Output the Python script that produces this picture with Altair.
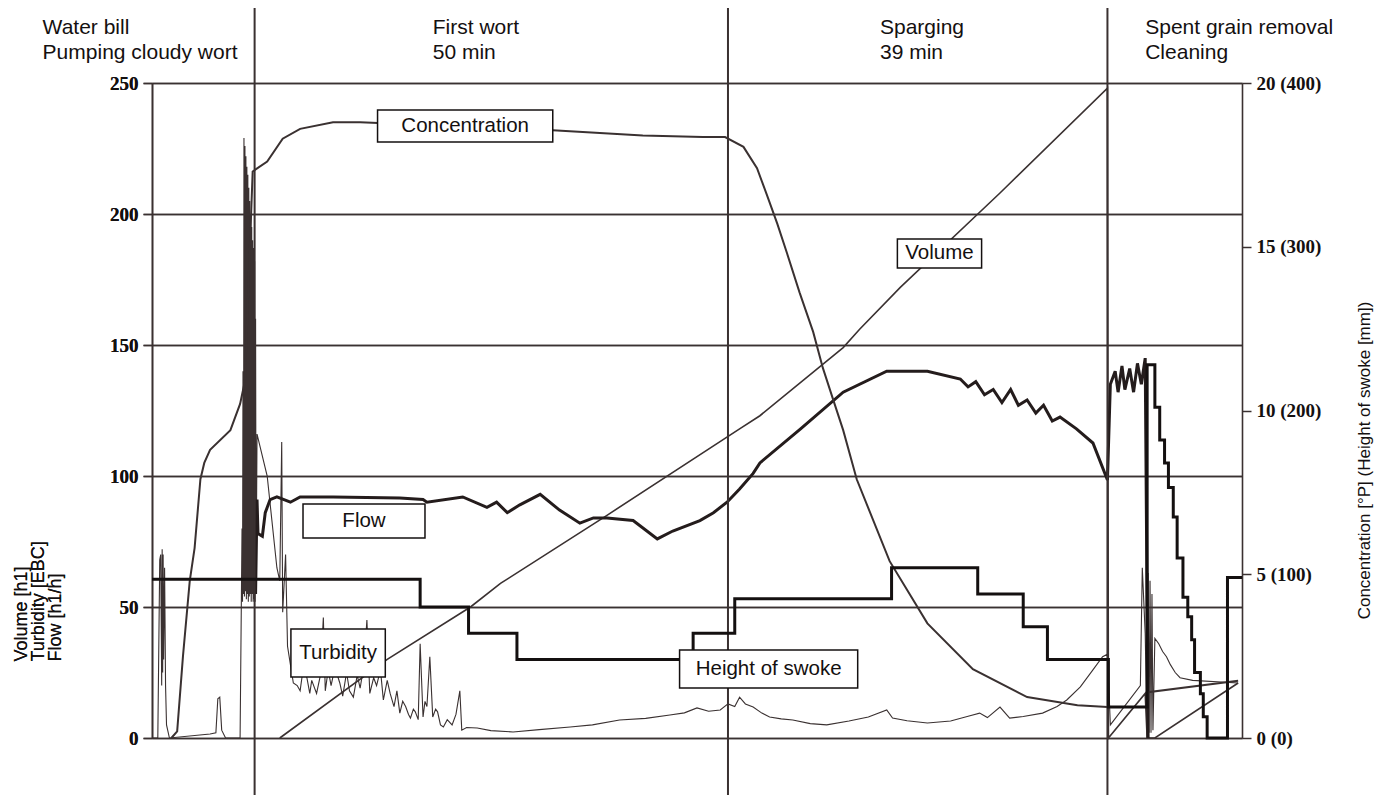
import altair as alt
import pandas as pd

INK = "#3a3131"
DARK = "#141010"

# ---------------- data (time in minutes) ----------------
# Volume [hl] (left axis)
vol_t = [13.2, 24.3, 32.9, 36.0, 47.0, 60.7, 62.8, 71.4, 73.1, 77.3, 87.6, 98.7, 98.8, 102.6, 102.8, 103.6, 112.2]
vol_v = [0, 30, 50, 59, 85, 118, 123, 149, 156, 172, 208, 248, 0, 17, 0, 0, 21]

# Turbidity [EBC] (left axis)
turb_t = [0, 0.6, 0.8, 0.9, 1.0, 1.05, 1.1, 1.15, 1.2, 1.3, 1.4, 1.5, 1.8,
          6.0, 6.6, 6.8, 7.0, 7.2, 7.6, 9.1,
          9.30, 9.35, 9.40, 9.45, 9.50, 9.55, 9.60, 9.65, 9.70, 9.75, 9.80, 9.85, 9.90, 9.95,
          10.00, 10.05, 10.10, 10.15, 10.20, 10.25, 10.30, 10.35, 10.40, 10.45, 10.50, 10.55,
          10.60, 10.65, 10.70, 10.75, 10.85,
          11.9, 12.9, 13.2, 13.4, 13.5, 13.8, 14.0, 14.3, 14.6, 15.0, 15.3, 15.6, 16.0, 16.3, 16.5, 17.0,
          17.4, 17.7, 17.9, 18.2, 18.5, 18.9, 19.4, 19.7, 20.1, 20.4, 20.8, 21.2, 21.5, 21.9, 22.2, 22.5,
          22.9, 23.2, 23.6, 23.9, 24.3, 24.6, 25.0, 25.3, 25.6, 25.9, 26.2, 26.5, 26.7, 27.0, 27.2, 27.5,
          27.7, 28.0, 28.2, 28.4, 28.7, 29.0, 29.3, 29.5, 29.8, 30.1, 30.5, 31.0, 31.4, 31.8, 32.0, 32.5,
          33.6, 35.0, 37.3, 40.0, 43.2, 45.5, 48.3, 51.0, 53.5, 55.0, 56.3, 57.5, 58.7, 59.5, 60.2, 60.7,
          61.3, 62.1, 63.0, 63.8, 65.0, 66.2, 68.0, 69.7, 72.0, 74.0, 75.9, 76.5, 78.0, 80.1, 82.5, 84.5,
          85.5, 86.3, 87.6, 88.6, 90.0, 92.0, 93.5, 94.5, 95.9, 97.2, 98.2, 98.7,
          99.0, 102.1, 102.3, 102.6, 102.8, 102.9, 103.0, 103.1, 103.2, 103.3, 103.4, 103.6, 104.0,
          104.4, 104.8, 105.2, 105.7, 106.2, 107.5, 112.2]
turb_v = [0, 0, 68, 70, 20, 72, 25, 70, 30, 65, 20, 5, 0,
          1.5, 2, 15, 15.6, 3, 0, 0,
          80, 52, 140, 55, 229, 54, 226, 56, 222, 53, 218, 55, 215, 52,
          210, 54, 205, 55, 200, 52, 195, 55, 190, 52, 187, 53,
          182, 52, 160, 60, 116,
          100, 65, 60, 113, 48, 70, 35, 28, 21, 20, 18, 26, 23, 17, 22, 17,
          24, 46, 18, 26, 20, 27, 21, 16, 25, 18, 15.6, 24, 19, 28, 45, 17,
          23, 20, 26, 14.5, 22, 17, 12, 18, 9.5, 14, 12, 9, 7.6, 11, 10, 7,
          36, 8, 14, 12, 31, 8, 11, 10, 5, 4.2, 7, 5, 9, 18, 3, 4,
          3.8, 2.8, 2.3, 3.2, 4.2, 5.0, 6.9, 7.5, 8.8, 9.6, 11.5, 10.2, 10.7, 13, 12, 15.6,
          13, 11.8, 9.5, 8, 7.3, 6.9, 5.5, 5, 6.5, 8, 10.7, 7.6, 6.6, 5.7, 6.5, 8.5,
          9.5, 7.8, 11.8, 7.6, 8.2, 9.5, 12, 14.5, 19.5, 26, 31, 32,
          5, 20, 65, 40, 0, 63, 2, 60, 2, 55, 3, 38, 36,
          33, 31, 28, 25, 23, 22, 21]

# Flow [hl/h] (left axis)
flow_t = [10.7, 10.85, 10.95, 11.4, 11.7, 12.2, 12.9, 14.3, 15.3, 18.7, 25.6, 28.0, 28.4, 32.1, 34.6,
          35.6, 36.7, 38.0, 40.1, 42.1, 44.2, 45.6, 47.0, 49.7, 52.2, 53.8, 56.6, 58.0, 59.4, 60.7,
          62.1, 62.8, 67.0, 71.4, 75.9, 80.1, 83.5, 84.3, 85.1, 86.0, 86.9, 87.8, 88.7, 89.5, 90.4,
          91.3, 92.1, 93.0, 93.8, 95.5, 97.2, 98.7,
          99.0, 99.5, 99.8, 100.2, 100.5, 101.0, 101.4, 101.8, 102.2, 102.6, 102.9]
flow_v = [55, 91, 78, 77, 86, 91, 92, 90, 92, 92, 91.6, 91, 90, 92, 88,
          90, 86, 89, 93, 87, 82, 84, 84, 83, 76, 79, 83, 86, 90, 95,
          101, 105, 118, 132, 140, 140, 137, 134, 136, 131, 133, 128, 133, 127, 129,
          124, 127, 121, 122.5, 118, 112.6, 98.5,
          135, 140, 132, 142, 133, 141, 132, 143, 135, 145, 0]

# Concentration [°P] (right axis)
conc_t = [2.0, 2.6, 3.2, 3.9, 4.4, 5.0, 5.4, 6.0, 8.1, 9.1, 9.6, 10.4, 11.9, 13.5, 15.3, 18.7, 21.5,
          41.4, 50.7, 56.9, 59.2, 61.1, 62.5, 63.5, 64.6, 65.6, 66.9, 68.3, 69.3, 70.4, 71.4, 72.8,
          76.2, 80.1, 84.8, 90.4, 95.6, 98.7, 102.8, 102.9, 112.2]
conc_v = [0, 0.2, 2.5, 4.8, 5.8, 7.9, 8.4, 8.8, 9.4, 10.2, 10.9, 17.3, 17.6, 18.3, 18.6, 18.8, 18.8,
          18.56, 18.4, 18.35, 18.35, 18.05, 17.4, 16.6, 15.7, 14.8, 13.6, 12.4, 11.3, 10.3, 9.4, 7.9,
          5.4, 3.5, 2.1, 1.25, 1.0, 0.95, 0.95, 1.4, 1.75]

# Height of swoke [mm] (right axis, values in brackets)
swoke_t = [0, 27.7, 32.7, 37.7, 55.9, 60.2, 76.4, 85.3, 90.0, 92.5, 98.8, 102.8, 103.6, 104.1, 104.6,
           105.0, 105.5, 105.9, 106.5, 107.0, 107.4, 107.7, 108.3, 108.6, 109.0, 111.1, 112.6]
swoke_v = [97, 80, 64, 48, 64, 85, 104, 88, 68, 48, 19, 228, 202, 182, 168,
           153, 135, 110, 86, 74, 60, 40, 27, 13, 0, 98, 98]

# Phase boundaries [min] and header texts
phase_t = [10.6, 59.5, 98.7]
head_text = ["Water bill", "Pumping cloudy wort", "First wort", "50 min", "Sparging", "39 min",
             "Spent grain removal", "Cleaning"]
head_t = [-11.3, -11.3, 29.0, 29.0, 75.2, 75.2, 102.6, 102.6]
head_y = [271.0, 261.6, 271.0, 261.6, 271.0, 261.6, 271.0, 261.6]

# Curve label boxes (min, left-axis units)
box_text = ["Concentration", "Volume", "Flow", "Turbidity", "Height of swoke"]
box_t1 = [23.3, 77.0, 15.6, 14.35, 54.5]
box_t2 = [41.4, 85.7, 28.2, 24.1, 72.9]
box_y1 = [227.5, 179.4, 76.3, 23.3, 19.1]
box_y2 = [239.7, 190.5, 89.3, 41.6, 33.6]

# ---------------- tables ----------------
def series(name, ts, vs):
    return pd.DataFrame({"t": ts, "v": vs, "series": name, "i": range(len(ts))})

vol_df = series("Volume", vol_t, vol_v)
turb_df = series("Turbidity", turb_t, turb_v)
flow_df = series("Flow", flow_t, flow_v)
conc_df = series("Concentration", conc_t, conc_v)
swoke_df = series("Height of swoke", swoke_t, swoke_v)
phase_df = pd.DataFrame({"t": phase_t})
head_df = pd.DataFrame({"text": head_text, "t": head_t, "y": head_y})
box_df = pd.DataFrame({"text": box_text, "t1": box_t1, "t2": box_t2, "y1": box_y1, "y2": box_y2})
box_df["tm"] = (box_df.t1 + box_df.t2) / 2
box_df["ym"] = (box_df.y1 + box_df.y2) / 2

# ---------------- scales & axes ----------------
xscale = alt.Scale(domain=[0, 112.6], nice=False, zero=False)
lscale = alt.Scale(domain=[0, 250], nice=False)
rscale = alt.Scale(domain=[0, 20], nice=False)
sscale = alt.Scale(domain=[0, 400], nice=False)

x_axis = alt.Axis(values=[0, 25, 50, 75, 100], grid=False, title="Time [min]",
                  domainColor=INK, domainWidth=1.6, tickColor=INK, tickWidth=1.4, tickSize=8,
                  labelFont="Liberation Serif", labelFontWeight="bold", labelFontSize=19,
                  labelColor=DARK, labelPadding=4, labelFlush=False,
                  titleFont="Liberation Sans", titleFontWeight="normal", titleFontSize=18,
                  titleColor=DARK, titlePadding=18)

left_axis = alt.Axis(values=[0, 50, 100, 150, 200, 250], orient="left", grid=True,
                     gridColor=INK, gridWidth=1.5, gridOpacity=1,
                     domainColor=INK, domainWidth=1.6, tickColor=INK, tickWidth=1.5, tickSize=9,
                     labelFont="Liberation Serif", labelFontWeight="bold", labelFontSize=19,
                     labelColor=DARK, labelPadding=5,
                     title=["Volume [h1]", "Turbidity [EBC]", "Flow [h1/h]"],
                     titleFont="Liberation Sans", titleFontWeight="normal", titleFontSize=18,
                     titleColor=DARK, titleAngle=270, titleAlign="left", titleBaseline="top",
                     titleX=-140, titleY=578, titleLineHeight=17)

right_axis = alt.Axis(values=[0, 5, 10, 15, 20], orient="right", grid=False,
                      labelExpr="datum.value + ' (' + datum.value * 20 + ')'",
                      domainColor=INK, domainWidth=1.6, tickColor=INK, tickWidth=1.5, tickSize=9,
                      labelFont="Liberation Serif", labelFontWeight="bold", labelFontSize=19,
                      labelColor=DARK, labelPadding=5,
                      title="Concentration [°P] (Height of swoke [mm])",
                      titleFont="Liberation Sans", titleFontWeight="normal", titleFontSize=17,
                      titleColor=DARK, titleAngle=270, titleAlign="center", titleBaseline="top",
                      titleX=114, titleY=377)

X_MAIN = alt.X("t:Q", scale=xscale, axis=x_axis)
X_NONE = alt.X("t:Q", scale=xscale, axis=None)
Y_LEFT = alt.Y("v:Q", scale=lscale, axis=left_axis)

# ---------------- left-axis layer ----------------
vol_line = alt.Chart(vol_df).mark_line(color=INK, strokeWidth=1.6).encode(
    x=X_MAIN, y=Y_LEFT, order="i:Q")
turb_line = alt.Chart(turb_df).mark_line(color=INK, strokeWidth=1.1).encode(
    x=X_NONE, y=Y_LEFT, order="i:Q")
flow_line = alt.Chart(flow_df).mark_line(color="#241c1c", strokeWidth=3.0).encode(
    x=X_NONE, y=Y_LEFT, order="i:Q")

phase_rules = alt.Chart(phase_df).mark_rule(color=INK, strokeWidth=2).encode(
    x=X_NONE, y=alt.value(-75), y2=alt.value(712),
)

headers = alt.Chart(head_df).mark_text(align="left", baseline="middle", font="Liberation Sans",
                                       fontSize=21, color=DARK).encode(
    x=X_NONE,
    y=alt.Y("y:Q", scale=lscale, axis=left_axis),
    text="text:N",
)

boxes = alt.Chart(box_df).mark_rect(fill="white", stroke=DARK, strokeWidth=1.5).encode(
    x=alt.X("t1:Q", scale=xscale, axis=None), x2="t2:Q",
    y=alt.Y("y1:Q", scale=lscale, axis=left_axis), y2="y2:Q",
)

box_labels = alt.Chart(box_df).mark_text(font="Liberation Sans", fontSize=20.5, color=DARK,
                                         baseline="middle", align="center").encode(
    x=alt.X("tm:Q", scale=xscale, axis=None),
    y=alt.Y("ym:Q", scale=lscale, axis=left_axis),
    text="text:N",
)

left_layer = alt.layer(vol_line, turb_line, flow_line, phase_rules, headers)

# ---------------- right-axis layers ----------------
conc_line = alt.Chart(conc_df).mark_line(color=INK, strokeWidth=2.0).encode(
    x=X_NONE,
    y=alt.Y("v:Q", scale=rscale, axis=right_axis),
    order="i:Q",
)

swoke_line = alt.Chart(swoke_df).mark_line(color=DARK, strokeWidth=3.0,
                                           interpolate="step-after").encode(
    x=X_NONE,
    y=alt.Y("v:Q", scale=sscale, axis=None),
    order="i:Q",
)

box_layer = alt.layer(boxes, box_labels)

chart = alt.layer(left_layer, conc_line, swoke_line, box_layer).resolve_scale(
    y="independent"
).properties(
    width=1090, height=655,
    padding={"left": 144, "top": 75, "right": 134, "bottom": 58},
    autosize=alt.AutoSizeParams(type="none"),
    background="white",
).configure_view(stroke=None)

chart.save("out.html", embed_options={"renderer": "svg", "actions": False})
